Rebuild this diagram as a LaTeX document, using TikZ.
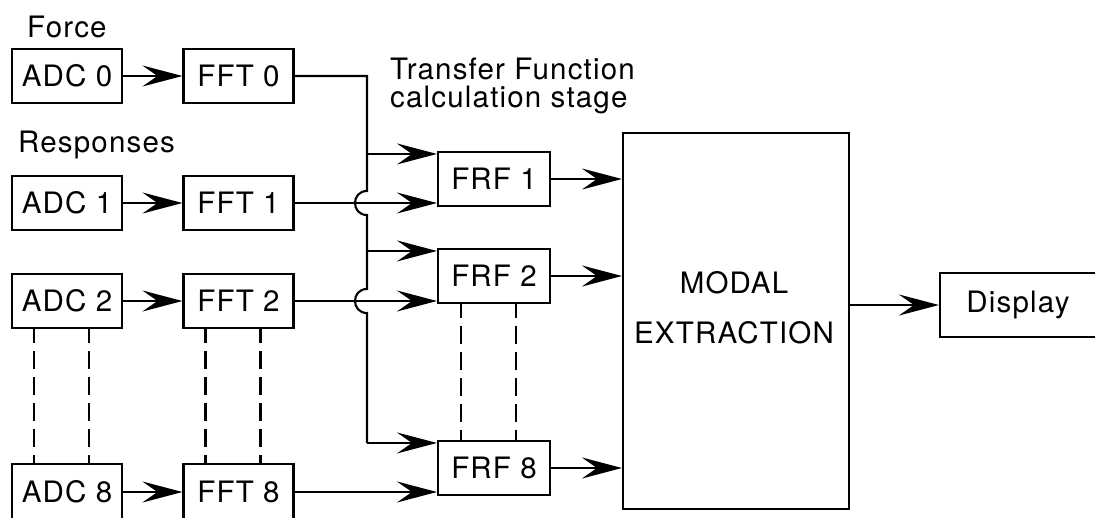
\documentclass[tikz,border=0pt]{standalone}
\usepackage{fontspec}
\setmainfont[LetterSpace=4]{TeX Gyre Heros}
\usetikzlibrary{arrows.meta,calc}
\begin{document}
\begin{tikzpicture}[x=1pt,y=-1pt,
  every node/.style={font=\fontsize{29.5}{27.5}\selectfont},
  blk/.style={draw, line width=2.1pt, inner sep=0pt, minimum width=110pt, minimum height=54pt},
  link/.style={line width=2.1pt},
  arr/.style={link, -{Stealth[length=40pt,width=21pt,inset=15pt]}},
  dsh/.style={line width=2.7pt, dash pattern=on 18pt off 8pt, dash phase=4pt}]
\useasboundingbox (0,0) rectangle (1095,517);

% acquisition and FFT chains
\node[blk] (adc0) at (67,76) {ADC 0};
\node[blk] (fft0) at (238.5,76) {FFT 0};
\node[blk] (adc1) at (67,203) {ADC 1};
\node[blk] (fft1) at (238.5,203) {FFT 1};
\node[blk] (adc2) at (67,301) {ADC 2};
\node[blk] (fft2) at (238.5,301) {FFT 2};
\node[blk, minimum height=56pt] (adc8) at (67,492) {ADC 8};
\node[blk, minimum height=56pt] (fft8) at (238.5,492) {FFT 8};

% transfer function stage
\node[blk, minimum width=112pt] (frf1) at (494,179) {FRF 1};
\node[blk, minimum width=112pt] (frf2) at (494,276) {FRF 2};
\node[blk, minimum width=112pt] (frf8) at (494,468) {FRF 8};

% modal extraction and output
\node[draw, line width=2.1pt, minimum width=226pt, minimum height=376pt] (modal) at (736,321) {};
\node[align=center, inner sep=0pt, font=\fontsize{29.5}{50}\selectfont] (modaltext) at (734,308) {MODAL\\EXTRACTION};
\node[blk, minimum width=156pt, minimum height=64pt] (disp) at (1018,305) {Display};

% headings
\node[anchor=base west, inner sep=0pt] (force) at (27,37) {Force};
\node[anchor=base west, inner sep=0pt] (resp) at (18,152) {Responses};
\node[anchor=north west, align=left, inner sep=0pt] (tfstage) at (390,58) {Transfer Function\\calculation stage};

% ADC -> FFT
\draw[arr] (adc0) -- (fft0);
\draw[arr] (adc1) -- (fft1);
\draw[arr] (adc2) -- (fft2);
\draw[arr] (adc8) -- (fft8);

% force bus with hops over the response lines
\coordinate (bus) at (367,0);
\coordinate (j1) at (fft1.east -| bus);
\coordinate (j2) at (fft2.east -| bus);
\coordinate (b1) at ($(frf1.north west -| bus)+(0,3)$);
\coordinate (b2) at ($(frf2.north west -| bus)+(0,3)$);
\coordinate (b8) at ($(frf8.north west -| bus)+(0,3)$);
\draw[link] (fft0.east) -- (fft0.east -| bus)
  -- ($(j1)+(0,-12)$) .. controls ($(j1)+(-16,-12)$) and ($(j1)+(-16,12)$) .. ($(j1)+(0,12)$)
  -- ($(j2)+(0,-12)$) .. controls ($(j2)+(-16,-12)$) and ($(j2)+(-16,12)$) .. ($(j2)+(0,12)$)
  -- (b8);
\draw[arr] (b1) -- (b1 -| frf1.west);
\draw[arr] (b2) -- (b2 -| frf2.west);
\draw[arr] (b8) -- (b8 -| frf8.west);

% responses into the FRF blocks
\draw[arr] (fft1.east) -- (fft1.east -| frf1.west);
\draw[arr] (fft2.east) -- (fft2.east -| frf2.west);
\draw[arr] (fft8.east) -- (fft8.east -| frf8.west);

% FRF -> modal extraction -> display
\draw[arr] (frf1.east) -- (frf1.east -| modal.west);
\draw[arr] (frf2.east) -- (frf2.east -| modal.west);
\draw[arr] (frf8.east) -- (frf8.east -| modal.west);
\draw[arr] (modal.east |- disp.west) -- (disp.west);

% channels 3..7 omitted
\draw[dsh] ($(adc2.south west)+(23,0)$) -- ($(adc8.north west)+(23,0)$);
\draw[dsh] ($(adc2.south west)+(78,0)$) -- ($(adc8.north west)+(78,0)$);
\draw[dsh] ($(fft2.south west)+(23,0)$) -- ($(fft8.north west)+(23,0)$);
\draw[dsh] ($(fft2.south west)+(78,0)$) -- ($(fft8.north west)+(78,0)$);
\draw[dsh] ($(frf2.south west)+(24,0)$) -- ($(frf8.north west)+(24,0)$);
\draw[dsh] ($(frf2.south west)+(79,0)$) -- ($(frf8.north west)+(79,0)$);
\end{tikzpicture}
\end{document}
